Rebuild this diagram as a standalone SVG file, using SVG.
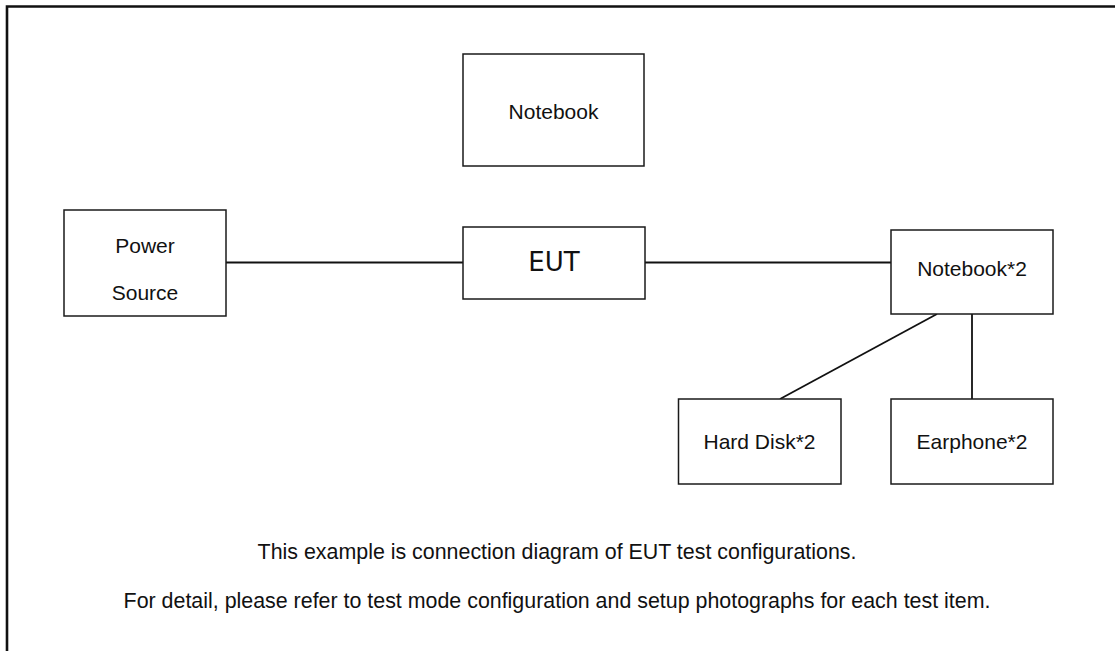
<svg xmlns="http://www.w3.org/2000/svg" width="1115" height="651" viewBox="0 0 1115 651">
<style>
.box{fill:#fff;stroke:#1a1a1a;stroke-width:1.5}
.conn{stroke:#111;stroke-width:1.8;fill:none}
.t{font-family:"Liberation Sans",Arial,sans-serif;font-size:21px;fill:#111;text-anchor:middle}
.cap{font-size:21.4px}
.big{font-family:"DejaVu Sans",sans-serif;font-size:26px;fill:#111;text-anchor:middle}
</style>
<rect width="1115" height="651" fill="#fff"/>
<path d="M7 651 V6.5 H1115" fill="none" stroke="#111" stroke-width="2.6"/>
<g id="connectors">
<line class="conn" x1="226" y1="262.5" x2="463" y2="262.5"/>
<line class="conn" x1="645" y1="262.5" x2="891" y2="262.5"/>
<line class="conn" x1="937" y1="314" x2="780" y2="399"/>
<line class="conn" x1="972" y1="314" x2="972" y2="399"/>
</g>
<g id="notebook">
<rect class="box" x="463" y="54" width="181" height="112"/>
<text class="t" x="553.5" y="119">Notebook</text>
</g>
<g id="power-source">
<rect class="box" x="64" y="210" width="162" height="106"/>
<text class="t" x="145" y="253">Power</text>
<text class="t" x="145" y="300">Source</text>
</g>
<g id="eut">
<rect class="box" x="463" y="227" width="182" height="72"/>
<text class="big" x="554" y="271">EUT</text>
</g>
<g id="notebook2">
<rect class="box" x="891" y="230" width="162" height="84"/>
<text class="t" x="972" y="276">Notebook*2</text>
</g>
<g id="hard-disk">
<rect class="box" x="678.5" y="399" width="162.5" height="85"/>
<text class="t" x="759.5" y="449">Hard Disk*2</text>
</g>
<g id="earphone">
<rect class="box" x="891" y="399" width="162" height="85"/>
<text class="t" x="972" y="449">Earphone*2</text>
</g>
<g id="caption">
<text class="t cap" x="557" y="559">This example is connection diagram of EUT test configurations.</text>
<text class="t cap" x="557" y="608">For detail, please refer to test mode configuration and setup photographs for each test item.</text>
</g>
</svg>
